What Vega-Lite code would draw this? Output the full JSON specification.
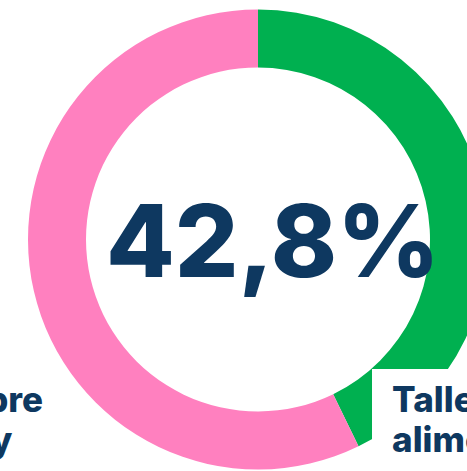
{
  "$schema": "https://vega.github.io/schema/vega-lite/v6.json",
  "width": 516,
  "height": 479,
  "autosize": {"type": "none"},
  "padding": 0,
  "background": "white",
  "config": {"view": {"stroke": null}},
  "datasets": {
    "segmentos": [
      {"categoria": "Talleres de alimentación", "valor": 42.8, "orden": 1},
      {"categoria": "Charlas sobre nutrición y salud", "valor": 57.2, "orden": 2}
    ],
    "cajas": [
      {"x": 0.4957, "x2": 1.13, "y": -0.563, "y2": -1.05}
    ],
    "textos": [
      {"texto": "42,8%", "x": 0.065, "y": -0.163, "tipo": "valor", "alinear": "center"},
      {"texto": "Talleres de", "x": 0.583, "y": -0.750, "tipo": "etiqueta", "alinear": "left"},
      {"texto": "alimentación", "x": 0.583, "y": -0.924, "tipo": "etiqueta", "alinear": "left"},
      {"texto": "Charlas sobre", "x": -0.935, "y": -0.750, "tipo": "etiqueta", "alinear": "right"},
      {"texto": "nutrición y", "x": -1.068, "y": -0.924, "tipo": "etiqueta", "alinear": "right"}
    ]
  },
  "layer": [
    {
      "data": {"name": "segmentos"},
      "mark": {"type": "arc", "outerRadius": 230, "innerRadius": 172},
      "encoding": {
        "theta": {"field": "valor", "type": "quantitative", "stack": true},
        "order": {"field": "orden", "type": "quantitative"},
        "color": {
          "field": "categoria",
          "type": "nominal",
          "scale": {"domain": ["Talleres de alimentación", "Charlas sobre nutrición y salud"], "range": ["#00B050", "#FF80BF"]},
          "legend": null
        }
      }
    },
    {
      "data": {"name": "cajas"},
      "mark": {"type": "rect", "fill": "white"},
      "encoding": {
        "x": {"field": "x", "type": "quantitative", "scale": {"domain": [-1.12174, 1.12174]}, "axis": null},
        "x2": {"field": "x2"},
        "y": {"field": "y", "type": "quantitative", "scale": {"domain": [-1.0413, 1.0413]}, "axis": null},
        "y2": {"field": "y2"}
      }
    },
    {
      "data": {"name": "textos"},
      "transform": [{"filter": "datum.tipo == 'valor'"}],
      "mark": {"type": "text", "font": "Inter", "fontWeight": 800, "fontSize": 100, "color": "#0E3860", "align": "center", "baseline": "alphabetic"},
      "encoding": {
        "x": {"field": "x", "type": "quantitative", "scale": {"domain": [-1.12174, 1.12174]}, "axis": null},
        "y": {"field": "y", "type": "quantitative", "scale": {"domain": [-1.0413, 1.0413]}, "axis": null},
        "text": {"field": "texto"}
      }
    },
    {
      "data": {"name": "textos"},
      "transform": [{"filter": "datum.tipo == 'etiqueta' && datum.alinear == 'left'"}],
      "mark": {"type": "text", "font": "Inter", "fontWeight": 800, "fontSize": 35, "color": "#0E3860", "align": "left", "baseline": "alphabetic"},
      "encoding": {
        "x": {"field": "x", "type": "quantitative", "scale": {"domain": [-1.12174, 1.12174]}, "axis": null},
        "y": {"field": "y", "type": "quantitative", "scale": {"domain": [-1.0413, 1.0413]}, "axis": null},
        "text": {"field": "texto"}
      }
    },
    {
      "data": {"name": "textos"},
      "transform": [{"filter": "datum.tipo == 'etiqueta' && datum.alinear == 'right'"}],
      "mark": {"type": "text", "font": "Inter", "fontWeight": 800, "fontSize": 35, "color": "#0E3860", "align": "right", "baseline": "alphabetic"},
      "encoding": {
        "x": {"field": "x", "type": "quantitative", "scale": {"domain": [-1.12174, 1.12174]}, "axis": null},
        "y": {"field": "y", "type": "quantitative", "scale": {"domain": [-1.0413, 1.0413]}, "axis": null},
        "text": {"field": "texto"}
      }
    }
  ]
}
